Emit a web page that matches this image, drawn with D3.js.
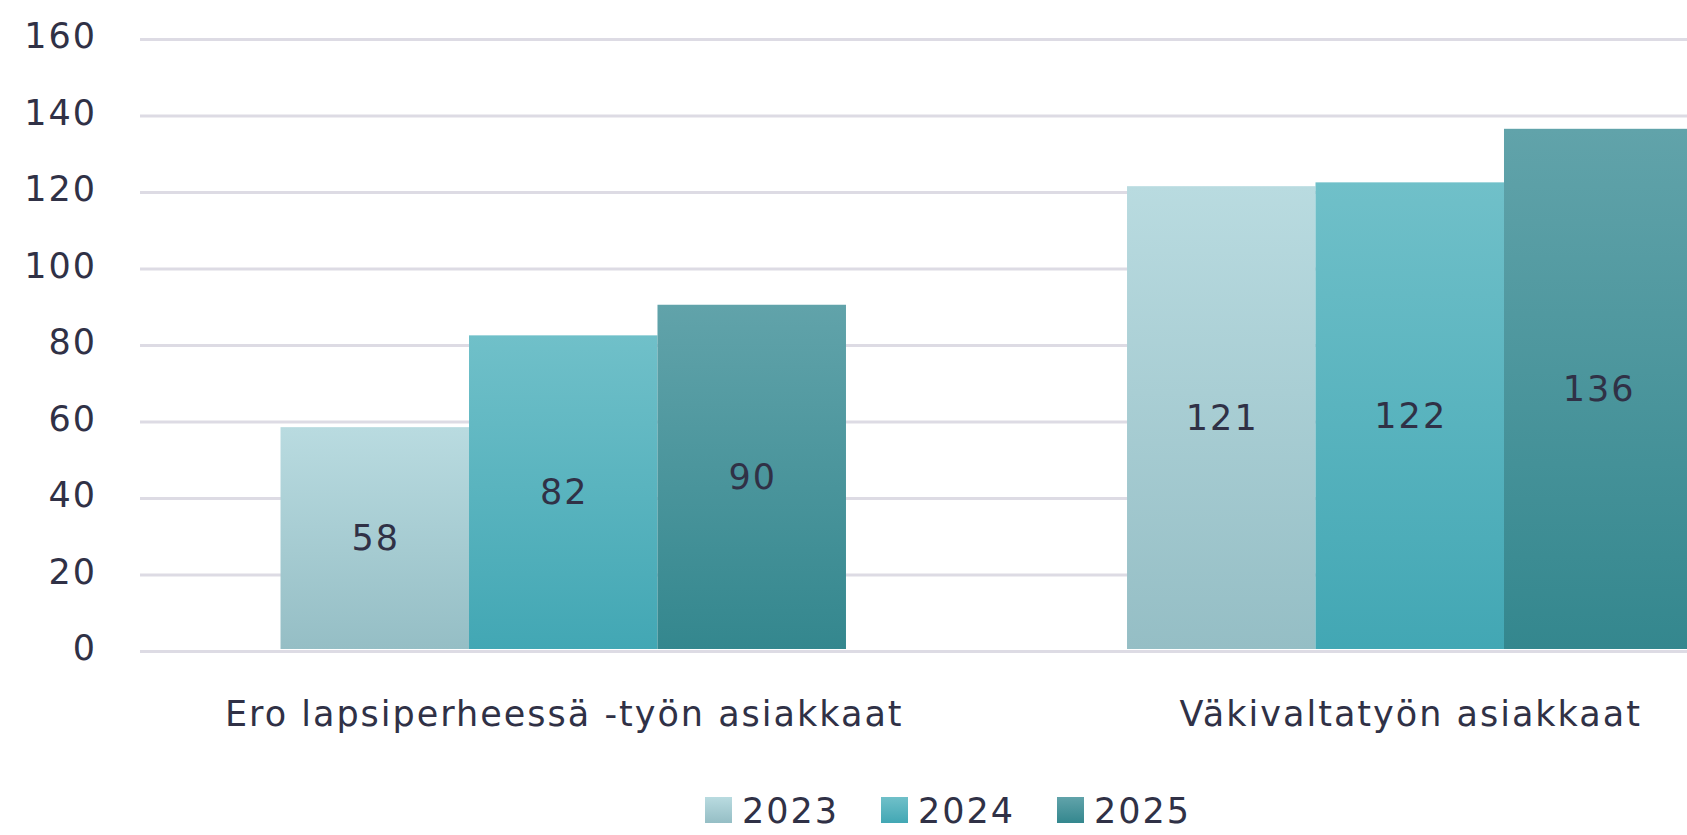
<!DOCTYPE html>
<html>
<head>
<meta charset="utf-8">
<script src="https://cdn.jsdelivr.net/npm/d3@7"></script>
<style>
    body { margin: 0; background: #ffffff; overflow: hidden; }
    svg { display: block; font-family: "DejaVu Sans", sans-serif; }
    svg text { letter-spacing: 2px; }
</style>
</head>
<body>
<div id="viz"></div>
<script>
"use strict";
// chart data
const categories = ["Ero lapsiperheessä -työn asiakkaat", "Väkivaltatyön asiakkaat"]
const years = ["2023", "2024", "2025"]
const values2023 = [58, 121]
const values2024 = [82, 122]
const values2025 = [90, 136]
const yTicks = [0, 20, 40, 60, 80, 100, 120, 140, 160]

const measurements = {
    width: 1687,
    height: 835,
    left: 140,
    right: 1833,   // plot runs past the right edge, as in the original crop
    top: 39,
    bottom: 651
}

const gradients = {
    "2023": ["#b9dbe0", "#95bec5"],
    "2024": ["#70c0c9", "#42a7b4"],
    "2025": ["#61a3aa", "#34878e"]
}
const textColor = "#303146"

const seriesByYear = { "2023": values2023, "2024": values2024, "2025": values2025 }

const svg = d3.select("#viz").append("svg")
    .attr("width", measurements.width)
    .attr("height", measurements.height)

// gradients for the bars
const defs = svg.append("defs")
years.forEach(function(y) {
    const g = defs.append("linearGradient")
        .attr("id", "grad" + y)
        .attr("x1", 0).attr("y1", 0).attr("x2", 0).attr("y2", 1)
    g.append("stop").attr("offset", "0%").attr("stop-color", gradients[y][0])
    g.append("stop").attr("offset", "100%").attr("stop-color", gradients[y][1])
})

const scaleY = d3.scaleLinear()
    .domain([0, 160])
    .range([measurements.bottom, measurements.top])

const scaleX = d3.scaleBand()
    .domain(categories)
    .range([measurements.left, measurements.right])
    .paddingInner(0.332)
    .paddingOuter(0.166)

const scaleSub = d3.scaleBand()
    .domain(years)
    .range([0, scaleX.bandwidth()])
    .padding(0)

// gridlines + y labels
const yAxis = svg.append("g")
    .attr("transform", "translate(" + measurements.left + ",0)")
    .call(d3.axisLeft(scaleY).tickValues(yTicks).tickSize(-(measurements.right - measurements.left)).tickPadding(43))
yAxis.select(".domain").remove()
yAxis.selectAll(".tick line")
    .attr("stroke", "#dddbe4")
    .attr("stroke-width", 3)
yAxis.selectAll(".tick text")
    .attr("fill", textColor)
    .attr("font-size", 35)
    .attr("font-family", "DejaVu Sans, sans-serif")
    .attr("dy", "0.25em")

// bars
const rows = []
categories.forEach(function(c, i) {
    years.forEach(function(y) {
        rows.push({ category: c, year: y, value: seriesByYear[y][i] })
    })
})

const bars = svg.append("g")
bars.selectAll("rect")
    .data(rows)
    .enter()
    .append("rect")
        .attr("x", d => scaleX(d.category) + scaleSub(d.year))
        .attr("y", d => scaleY(d.value) - 2)
        .attr("width", scaleSub.bandwidth())
        .attr("height", d => scaleY(0) - scaleY(d.value))
        .attr("fill", d => "url(#grad" + d.year + ")")

// value labels in the middle of each bar
bars.selectAll("text")
    .data(rows)
    .enter()
    .append("text")
        .attr("x", d => scaleX(d.category) + scaleSub(d.year) + scaleSub.bandwidth() / 2 + 1)
        .attr("y", d => (scaleY(d.value) + scaleY(0)) / 2 - 2)
        .attr("dy", "0.35em")
        .attr("text-anchor", "middle")
        .attr("fill", textColor)
        .attr("font-size", 35)
        .text(d => d.value)

// category labels
svg.append("g")
    .selectAll("text")
    .data(categories)
    .enter()
    .append("text")
        .attr("x", d => scaleX(d) + scaleX.bandwidth() / 2 + 1)
        .attr("y", 726)
        .attr("text-anchor", "middle")
        .attr("fill", textColor)
        .attr("font-size", 35)
        .text(d => d)

// legend (nudged up a little so the labels stay inside the picture)
const legend = svg.append("g")
    .attr("transform", "translate(705, 797)")
const items = legend.selectAll("g")
    .data(years)
    .enter()
    .append("g")
        .attr("transform", (d, i) => "translate(" + (i * 176) + ",0)")
items.append("rect")
    .attr("width", 27)
    .attr("height", 26)
    .attr("fill", d => "url(#grad" + d + ")")
items.append("text")
    .attr("x", 37)
    .attr("y", 26)
    .attr("fill", textColor)
    .attr("font-size", 35)
    .text(d => d)
</script>
</body>
</html>
